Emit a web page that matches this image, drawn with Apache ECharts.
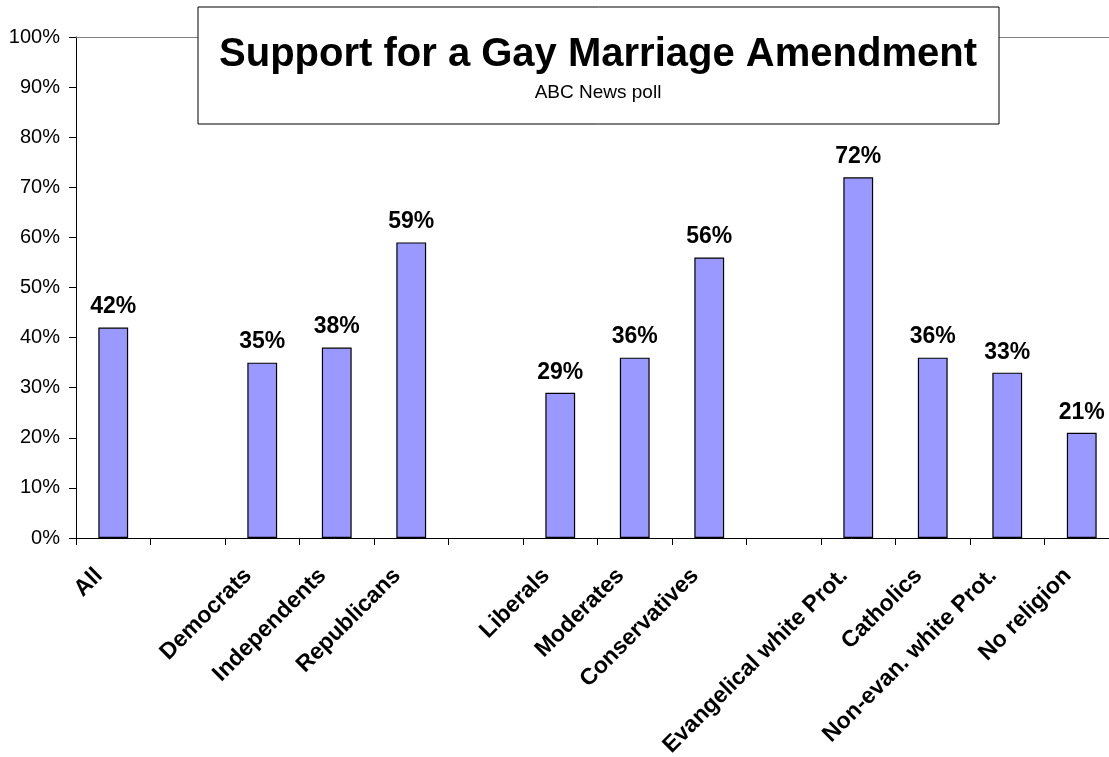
<!DOCTYPE html>
<html>
<head>
<meta charset="utf-8">
<script src="https://cdn.jsdelivr.net/npm/echarts@6/dist/echarts.min.js"></script>
<style>
html,body{margin:0;padding:0;background:#fff;}
#chart{width:1109px;height:757px;}
</style>
</head>
<body>
<div id="chart"></div>
<script>
const categories = ['All', '', 'Democrats', 'Independents', 'Republicans', '', 'Liberals', 'Moderates', 'Conservatives', '', 'Evangelical white Prot.', 'Catholics', 'Non-evan. white Prot.', 'No religion'];
const support = [42, null, 35, 38, 59, null, 29, 36, 56, null, 72, 36, 33, 21];
const yTicks = { min: 0, max: 100, interval: 10 };
const titleText = 'Support for a Gay Marriage Amendment';
const subtitleText = 'ABC News poll';

const FONT = 'Arial, "Liberation Sans", Helvetica, sans-serif';
const chart = echarts.init(document.getElementById('chart'), null, { renderer: 'canvas' });
chart.setOption({
  backgroundColor: '#ffffff',
  animation: false,
  grid: { left: 76, top: 37, bottom: 219, width: 1043, containLabel: false, outerBoundsMode: 'none' },
  xAxis: [{
    type: 'category',
    data: categories,
    position: 'bottom',
    axisLine: { lineStyle: { color: '#000', width: 1 } },
    axisTick: { show: true, alignWithLabel: false, length: 7, lineStyle: { color: '#000' } },
    axisLabel: {
      interval: 0, rotate: 45, margin: 20, padding: [0, 20, 0, 0],
      fontFamily: FONT, fontWeight: 'bold', fontSize: 23, color: '#000'
    },
    splitLine: { show: false }
  }, {
    type: 'category',
    data: categories,
    position: 'top',
    axisLine: { lineStyle: { color: '#808080', width: 1 } },
    axisTick: { show: false },
    axisLabel: { show: false },
    splitLine: { show: false }
  }],
  yAxis: {
    type: 'value',
    min: yTicks.min, max: yTicks.max, interval: yTicks.interval,
    axisLine: { show: true, lineStyle: { color: '#000', width: 1 } },
    axisTick: { show: true, length: 7, lineStyle: { color: '#000' } },
    axisLabel: { formatter: '{value}%', fontFamily: FONT, fontSize: 20, color: '#000', margin: 16 },
    splitLine: { show: false }
  },
  series: [{
    type: 'bar',
    xAxisIndex: 0,
    data: support,
    barWidth: '40%',
    itemStyle: { color: '#9999ff', borderColor: '#000', borderWidth: 1.2 },
    label: {
      show: true, position: 'top', distance: 9,
      formatter: p => (p.value == null ? '' : p.value + '%'),
      fontFamily: FONT, fontWeight: 'bold', fontSize: 23, color: '#000'
    }
  }],
  graphic: [{
    type: 'rect', z: 100,
    shape: { x: 198, y: 7, width: 801, height: 117 },
    style: { fill: '#fff', stroke: '#000', lineWidth: 1 }
  }, {
    type: 'text', z: 101, x: 598, y: 55,
    style: { text: titleText, font: 'bold 40px ' + FONT, fill: '#000', textAlign: 'center', textVerticalAlign: 'middle' }
  }, {
    type: 'text', z: 101, x: 598, y: 93,
    style: { text: subtitleText, font: '19px ' + FONT, fill: '#000', textAlign: 'center', textVerticalAlign: 'middle' }
  }]
});
</script>
</body>
</html>
